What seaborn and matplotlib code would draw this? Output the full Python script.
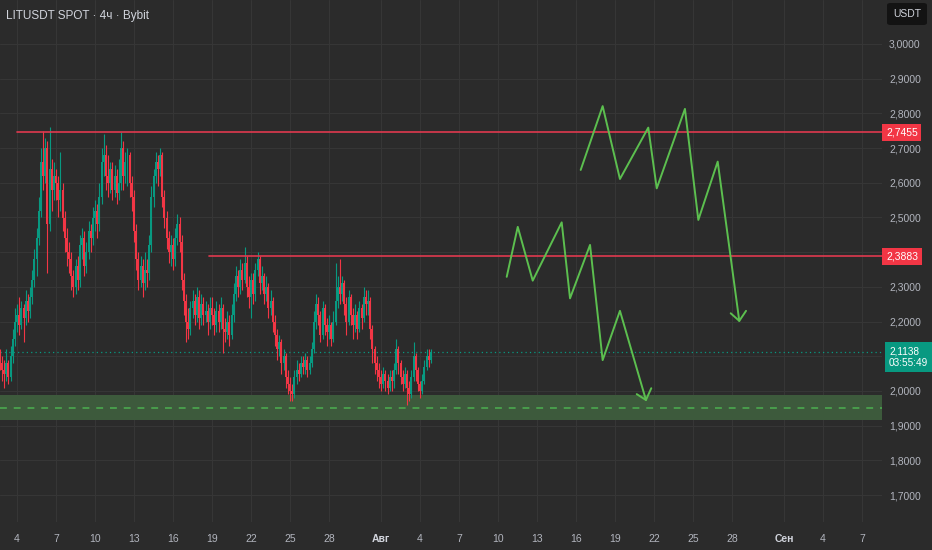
import numpy as np
import pandas as pd
import matplotlib
matplotlib.use("Agg")
import matplotlib.pyplot as plt
import matplotlib.transforms as mtransforms
from matplotlib.patches import FancyBboxPatch
import seaborn as sns

# ---------------- data ----------------
title = "LITUSDT SPOT · 4ч · Bybit"
first_open = 2.10
close = [
    2.08, 2.06,
    2.05, 2.08, 2.04, 2.10, 2.15, 2.20,
    2.22, 2.19, 2.24, 2.21, 2.26, 2.23,
    2.27, 2.32, 2.38, 2.44, 2.52, 2.66,
    2.62, 2.70, 2.48, 2.64, 2.58, 2.62,
    2.60, 2.55, 2.58, 2.50, 2.44, 2.40,
    2.38, 2.33, 2.30, 2.36, 2.32, 2.42,
    2.44, 2.36, 2.40, 2.46, 2.44, 2.50,
    2.52, 2.48, 2.56, 2.66, 2.68, 2.62,
    2.60, 2.64, 2.58, 2.62, 2.57, 2.60,
    2.70, 2.62, 2.66, 2.68, 2.60, 2.56,
    2.46, 2.38, 2.32, 2.36, 2.31, 2.35,
    2.34, 2.42, 2.56, 2.62, 2.66, 2.64,
    2.68, 2.56, 2.50, 2.44, 2.40, 2.42,
    2.38, 2.44, 2.48, 2.43, 2.32, 2.26,
    2.20, 2.18, 2.24, 2.26, 2.22, 2.27,
    2.21, 2.25, 2.22, 2.23, 2.20, 2.24,
    2.22, 2.19, 2.23, 2.20, 2.24, 2.18,
    2.17, 2.20, 2.16, 2.22, 2.28, 2.33,
    2.30, 2.35, 2.32, 2.37, 2.30, 2.27,
    2.32, 2.28, 2.35, 2.38, 2.31, 2.33,
    2.28, 2.30, 2.24, 2.26, 2.20, 2.16,
    2.12, 2.14, 2.08, 2.10, 2.04, 2.02,
    2.00, 1.99, 2.04, 2.06, 2.05, 2.08,
    2.07, 2.09, 2.06, 2.08, 2.12, 2.20,
    2.25, 2.22, 2.16, 2.24, 2.19, 2.17,
    2.19, 2.15, 2.20, 2.26, 2.30, 2.28,
    2.31, 2.25, 2.20, 2.27, 2.22, 2.19,
    2.22, 2.18, 2.24, 2.21, 2.27, 2.25,
    2.26, 2.18, 2.12, 2.08, 2.06, 2.04,
    2.02, 2.05, 2.03, 2.01, 2.04, 2.03,
    2.06, 2.12, 2.08, 2.04, 2.02, 2.05,
    2.01, 1.99, 2.04, 2.10, 2.06, 2.02,
    2.00, 2.03, 2.07, 2.10, 2.09, 2.1138,
]
high = [
    2.12, 2.10,
    2.09, 2.12, 2.09, 2.13, 2.18, 2.24,
    2.25, 2.27, 2.26, 2.25, 2.29, 2.28,
    2.30, 2.35, 2.41, 2.47, 2.56, 2.70,
    2.75, 2.73, 2.72, 2.76, 2.67, 2.66,
    2.64, 2.62, 2.69, 2.60, 2.52, 2.47,
    2.43, 2.40, 2.35, 2.38, 2.39, 2.45,
    2.47, 2.46, 2.43, 2.49, 2.48, 2.53,
    2.55, 2.54, 2.60, 2.70, 2.74, 2.71,
    2.68, 2.66, 2.66, 2.65, 2.64, 2.67,
    2.745, 2.72, 2.69, 2.70, 2.69, 2.62,
    2.58, 2.48, 2.40, 2.39, 2.38, 2.40,
    2.38, 2.45, 2.59, 2.64, 2.69, 2.68,
    2.70, 2.69, 2.58, 2.52, 2.46, 2.45,
    2.44, 2.47, 2.51, 2.50, 2.45, 2.34,
    2.28, 2.24, 2.26, 2.29, 2.28, 2.30,
    2.29, 2.28, 2.27, 2.26, 2.25, 2.27,
    2.27, 2.24, 2.26, 2.25, 2.27, 2.25,
    2.21, 2.23, 2.22, 2.25, 2.31, 2.36,
    2.35, 2.38, 2.37, 2.415, 2.39, 2.33,
    2.34, 2.34, 2.37, 2.40, 2.39, 2.36,
    2.34, 2.33, 2.31, 2.29, 2.27, 2.22,
    2.18, 2.16, 2.15, 2.12, 2.11, 2.06,
    2.04, 2.02, 2.06, 2.09, 2.08, 2.10,
    2.10, 2.11, 2.10, 2.10, 2.14, 2.23,
    2.28, 2.27, 2.23, 2.26, 2.25, 2.21,
    2.22, 2.20, 2.23, 2.37, 2.33, 2.38,
    2.33, 2.32, 2.27, 2.29, 2.28, 2.24,
    2.25, 2.23, 2.26, 2.25, 2.30, 2.29,
    2.29, 2.27, 2.19, 2.13, 2.10, 2.08,
    2.06, 2.07, 2.06, 2.05, 2.06, 2.06,
    2.08, 2.15, 2.13, 2.09, 2.06, 2.07,
    2.06, 2.03, 2.06, 2.14, 2.11, 2.07,
    2.03, 2.05, 2.09, 2.12, 2.12, 2.12,
]
low = [
    2.06, 2.03,
    2.01, 2.03, 2.02, 2.03, 2.08, 2.13,
    2.17, 2.16, 2.18, 2.14, 2.19, 2.20,
    2.21, 2.25, 2.30, 2.33, 2.42, 2.50,
    2.58, 2.60, 2.34, 2.46, 2.52, 2.55,
    2.55, 2.50, 2.52, 2.46, 2.40, 2.36,
    2.34, 2.29, 2.27, 2.28, 2.29, 2.30,
    2.38, 2.33, 2.34, 2.38, 2.40, 2.42,
    2.46, 2.44, 2.46, 2.54, 2.62, 2.58,
    2.56, 2.57, 2.55, 2.56, 2.54, 2.55,
    2.58, 2.58, 2.60, 2.59, 2.56, 2.52,
    2.43, 2.35, 2.29, 2.30, 2.27, 2.29,
    2.30, 2.32, 2.40, 2.53, 2.60, 2.59,
    2.62, 2.53, 2.47, 2.41, 2.37, 2.36,
    2.35, 2.36, 2.42, 2.40, 2.29, 2.22,
    2.14, 2.15, 2.16, 2.21, 2.19, 2.20,
    2.18, 2.19, 2.19, 2.20, 2.16, 2.18,
    2.19, 2.16, 2.17, 2.17, 2.18, 2.11,
    2.14, 2.15, 2.13, 2.15, 2.20, 2.26,
    2.27, 2.28, 2.29, 2.31, 2.27, 2.24,
    2.21, 2.25, 2.26, 2.33, 2.28, 2.29,
    2.25, 2.26, 2.21, 2.22, 2.17, 2.13,
    2.09, 2.10, 2.05, 2.06, 2.01, 1.99,
    1.97, 1.97, 1.98, 2.02, 2.03, 2.04,
    2.05, 2.05, 2.04, 2.05, 2.07, 2.11,
    2.18, 2.19, 2.14, 2.15, 2.16, 2.13,
    2.15, 2.13, 2.14, 2.19, 2.24, 2.25,
    2.26, 2.22, 2.16, 2.19, 2.19, 2.15,
    2.17, 2.15, 2.17, 2.18, 2.20, 2.22,
    2.22, 2.15, 2.08, 2.05, 2.03, 2.01,
    2.00, 2.01, 2.00, 1.99, 2.00, 2.00,
    2.01, 2.05, 2.05, 2.02, 2.00, 2.01,
    1.96, 1.97, 1.98, 2.03, 2.03, 2.00,
    1.98, 1.99, 2.02, 2.06, 2.07, 2.08,
]
first_bar_day = -4.0 / 3.0      # 2 July 16:00, in days from 4 July 00:00
bar_days = 4.0 / 24.0           # 4h candles

level_prices = [2.7455, 2.3883]
level_start_days = [0.0, 14.75]
zone_low, zone_high, zone_mid = 1.916, 1.989, 1.952
last_price = 2.1138
countdown = "03:55:49"
currency = "USDT"

x_tick_days = [0, 3, 6, 9, 12, 15, 18, 21, 24, 28, 31, 34, 37, 40, 43, 46, 49, 52, 55, 59, 62, 65]
x_tick_labels = ["4", "7", "10", "13", "16", "19", "22", "25", "28", "Авг",
                 "4", "7", "10", "13", "16", "19", "22", "25", "28", "Сен", "4", "7"]
month_labels = ["Авг", "Сен"]
y_ticks = [1.7, 1.8, 1.9, 2.0, 2.1, 2.2, 2.3, 2.4, 2.5, 2.6, 2.7, 2.8, 2.9, 3.0]
y_hidden = [2.1]   # covered by the last-price label

path_a_day = [43.36, 45.05, 46.38, 48.56, 49.21, 51.38, 52.41, 53.90, 55.56]
path_a_price = [2.637, 2.821, 2.611, 2.759, 2.584, 2.813, 2.493, 2.661, 2.202]
head_a_day = [54.90, 55.56, 56.08]
head_a_price = [2.224, 2.202, 2.231]
path_b_day = [37.67, 38.52, 39.67, 41.90, 42.54, 44.08, 45.05, 46.38, 48.38]
path_b_price = [2.329, 2.473, 2.318, 2.486, 2.267, 2.421, 2.089, 2.231, 1.974]
head_b_day = [47.67, 48.38, 48.79]
head_b_price = [1.991, 1.974, 2.008]

# ---------------- style ----------------
BG = "#2b2b2b"
GRID = "#363636"
TXT = "#b2b5be"
UP = "#089981"
DOWN = "#f23645"
DRAW = "#5cbf4f"

sns.set_style("dark")
plt.rcParams["font.family"] = ["Liberation Sans", "DejaVu Sans"]

fig = plt.figure(figsize=(9.32, 5.5), dpi=100, facecolor=BG)
ax = fig.add_axes([0, 28 / 550, 882 / 932, 522 / 550])
ax.set_facecolor(BG)

o = np.array([first_open] + close[:-1])
c = np.array(close)
h = np.array(high)
l = np.array(low)
xs = first_bar_day + np.arange(len(c)) * bar_days
cols = np.where(c >= o, UP, DOWN)

df = pd.DataFrame({"x": xs, "open": o, "close": c, "high": h, "low": l, "color": cols})

# grid
for d in x_tick_days:
    ax.axvline(d, color=GRID, lw=0.8, zorder=0)
for p in y_ticks:
    ax.axhline(p, color=GRID, lw=0.8, zorder=0)

# zone
ax.axhspan(zone_low, zone_high, color="#3d5a3c", lw=0, zorder=1)
ax.axhline(zone_mid, color="#4caf50", lw=1.1, dashes=(4.5, 4.5), zorder=2)

# candles
ax.vlines(df["x"], df["low"], df["high"], colors=df["color"], lw=0.8, zorder=3)
body_bottom = np.minimum(df["open"], df["close"])
body_h = np.maximum(np.abs(df["close"] - df["open"]), 0.003)
ax.bar(df["x"], body_h, bottom=body_bottom, width=0.13, color=df["color"], lw=0, zorder=4)

# levels
xmax = (882 - 17) / 13.0
for lp, ls in zip(level_prices, level_start_days):
    ax.plot([ls, xmax], [lp, lp], color="#e0394f", lw=1.2, zorder=5)

# last price dotted
ax.axhline(last_price, color=UP, lw=0.9, ls=(0, (1, 2.5)), zorder=2)

# drawings
for dx, dy in [(path_a_day, path_a_price), (head_a_day, head_a_price),
               (path_b_day, path_b_price), (head_b_day, head_b_price)]:
    sns.lineplot(x=dx, y=dy, sort=False, estimator=None, color=DRAW, lw=1.4, ax=ax, zorder=6)

ax.set_xlim(-17 / 13.0, xmax)
ax.set_ylim(3.0 - 478 / 347.0, 3.0 + 44 / 347.0)

# axes
for s in ax.spines.values():
    s.set_visible(False)
ax.yaxis.tick_right()
ax.set_yticks(y_ticks)
ax.set_yticklabels(["" if v in y_hidden else f"{v:.4f}".replace(".", ",") for v in y_ticks])
ax.tick_params(axis="y", length=0, pad=5, labelsize=7.5, colors=TXT)
ax.set_xticks(x_tick_days)
ax.set_xticklabels(x_tick_labels)
ax.tick_params(axis="x", length=0, pad=9, labelsize=7.5, colors=TXT)
for t in ax.get_xticklabels():
    if t.get_text() in month_labels:
        t.set_fontweight("bold")
        t.set_color("#d1d4dc")
ax.set_xlabel("")
ax.set_ylabel("")
ax.grid(False)

trans = mtransforms.blended_transform_factory(ax.transAxes, ax.transData)
for lp in level_prices:
    ax.text(1.0 + 4 / 882, lp, f"{lp:.4f}".replace(".", ","), transform=trans,
            ha="left", va="center", color="white", fontsize=7.5, zorder=10,
            bbox=dict(boxstyle="square,pad=0.35", fc="#f23645", ec="none"), clip_on=False)
ax.annotate(f"{last_price:.4f}".replace(".", ",") + "\n" + countdown, xy=(1.0, last_price),
            xycoords=trans, xytext=(5, 3.5), textcoords="offset points",
            ha="left", va="top", color="white", fontsize=7.2, linespacing=1.2,
            bbox=dict(boxstyle="square,pad=0.42", fc=UP, ec="none"), annotation_clip=False, zorder=10)

fig.text(6 / 932, 1 - 16 / 550, title, color="#d1d4dc", fontsize=8.5, va="center", ha="left")
box = FancyBboxPatch((887 / 932, 1 - 25 / 550), 40 / 932, 22 / 550,
                     boxstyle="round,pad=0,rounding_size=0.004", transform=fig.transFigure,
                     fc="#131313", ec="none")
fig.patches.append(box)
fig.text(907 / 932, 1 - 14 / 550, currency, color="#d1d4dc", fontsize=7.5, ha="center", va="center")

fig.savefig("out.png", dpi=100, facecolor=BG)
